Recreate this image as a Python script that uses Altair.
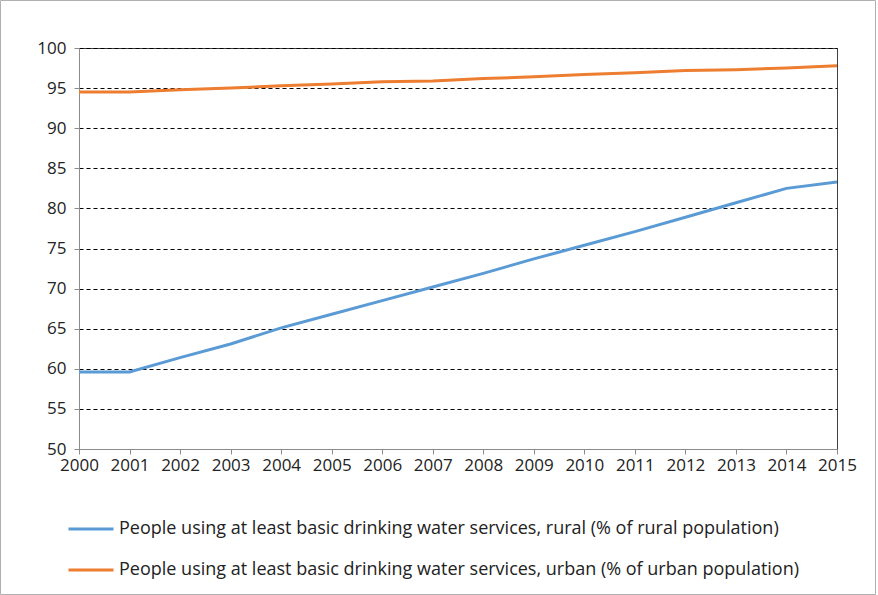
import altair as alt
import pandas as pd

# Share of population using at least basic drinking water services
years = list(range(2000, 2016))
rural = [59.6, 59.6, 61.4, 63.1, 65.1, 66.8, 68.5, 70.2, 71.9, 73.7,
         75.4, 77.1, 78.9, 80.7, 82.5, 83.3]
urban = [94.5, 94.5, 94.8, 95.0, 95.3, 95.5, 95.8, 95.9, 96.2, 96.4,
         96.7, 96.9, 97.2, 97.3, 97.5, 97.8]

series_names = [
    "People using at least basic drinking water services, rural (% of rural population)",
    "People using at least basic drinking water services, urban (% of urban population)",
]
series_colors = ["#5B9BD5", "#ED7D31"]

df = pd.concat([
    pd.DataFrame({"year": years, "value": rural, "series": series_names[0]}),
    pd.DataFrame({"year": years, "value": urban, "series": series_names[1]}),
])

FONT = "Open Sans"
W, H = 758, 401

lines = alt.Chart(df).mark_line(strokeWidth=3, clip=True).encode(
    x=alt.X("year:Q",
            scale=alt.Scale(domain=[2000, 2015], nice=False, zero=False),
            axis=alt.Axis(values=years, format="d", title=None, grid=False,
                          tickSize=5, labelPadding=3, labelOverlap=False,
                          labelFlush=False,
                          domainColor="#8c8c8c", tickColor="#8c8c8c",
                          labelFontSize=17, labelColor="#222",
                          labelFont=FONT)),
    y=alt.Y("value:Q",
            scale=alt.Scale(domain=[50, 100], nice=False, zero=False),
            axis=alt.Axis(values=list(range(50, 101, 5)), title=None,
                          grid=True, gridColor="#000", gridDash=[4, 3],
                          gridWidth=1, tickSize=5, labelPadding=8,
                          labelOverlap=False, labelFlush=False,
                          domainColor="#8c8c8c", tickColor="#8c8c8c",
                          labelFontSize=17, labelColor="#222",
                          labelFont=FONT)),
    color=alt.Color("series:N",
                    scale=alt.Scale(domain=series_names, range=series_colors),
                    legend=alt.Legend(title=None, orient="none",
                                      legendX=-12, legendY=457,
                                      symbolType="stroke", symbolSize=2025,
                                      symbolStrokeWidth=3, labelFontSize=18,
                                      labelFont=FONT, labelColor="#222",
                                      labelLimit=900, rowPadding=8,
                                      labelOffset=4, padding=0)),
)

# Outer chart frame
frame = alt.Chart(pd.DataFrame({"a": [0]})).mark_rect(
    fill=None, stroke="#b0b0b0", strokeWidth=1
).encode(
    x=alt.value(-78.5), x2=alt.value(W + 38.5),
    y=alt.value(-47.5), y2=alt.value(H + 145.5),
)

chart = alt.layer(frame, lines).properties(
    width=W, height=H,
    autosize=alt.AutoSizeParams(type="none"),
    padding={"left": 79, "top": 48, "right": 41, "bottom": 146},
    background="white",
).configure_view(stroke="#404040", strokeWidth=1)

chart.save("out.html", embed_options={"renderer": "svg", "actions": False})
